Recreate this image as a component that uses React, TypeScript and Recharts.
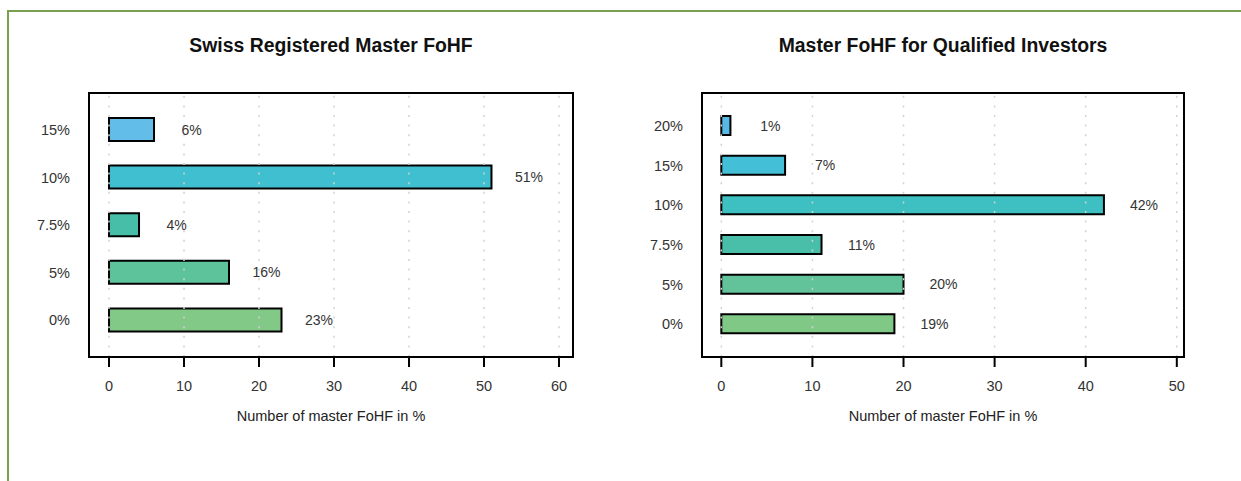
import React from "react";
import { BarChart, Bar, XAxis, YAxis, Cell, LabelList, ReferenceLine } from "recharts";

const FONT = "'Liberation Sans', Arial, sans-serif";

// left panel
const swissCategories = ["15%", "10%", "7.5%", "5%", "0%"];
const swissValues = [6, 51, 4, 16, 23];
const swissColors = ["#62bde9", "#3fbfcf", "#47bea8", "#5cc39b", "#82c887"];
const swissTicks = [0, 10, 20, 30, 40, 50, 60];

// right panel
const qualCategories = ["20%", "15%", "10%", "7.5%", "5%", "0%"];
const qualValues = [1, 7, 42, 11, 20, 19];
const qualColors = ["#56b9e6", "#43c0d7", "#3ebfc1", "#49bea8", "#62c299", "#80c885"];
const qualTicks = [0, 10, 20, 30, 40, 50];

const AXIS_TITLE = "Number of master FoHF in %";

const makeLabel = (offset: number) => (props: any) => {
  const { x, y, width, height, value } = props;
  return (
    <text x={x + width + offset} y={y + height / 2} dy="0.36em" textAnchor="middle"
      fontFamily={FONT} fontSize={14} fill="#333">
      {value}%
    </text>
  );
};

type PanelProps = {
  left: number; width: number;
  plotLeft: number; plotRight: number;
  categories: string[]; values: number[]; colors: string[];
  ticks: number[]; domain: [number, number];
  barSize: number; labelOffset: number; title: string;
};

function Panel(p: PanelProps) {
  const data = p.categories.map((c, i) => ({ cat: c, value: p.values[i] }));
  const top = 93, bottom = 357;
  const cx = (p.plotLeft + p.plotRight) / 2;
  return (
    <div style={{ position: "absolute", left: p.left, top: 0, width: p.width, height: 481 }}>
      <BarChart width={p.width} height={481} data={data} layout="vertical"
        margin={{ top, bottom: 481 - bottom - 40, left: p.plotLeft - 60, right: p.width - p.plotRight }}>
        <XAxis type="number" domain={p.domain} ticks={p.ticks} allowDataOverflow
          axisLine={false} tickSize={10} tickMargin={14} height={40}
          tickLine={{ stroke: "#000", strokeWidth: 2 }}
          tick={{ fontFamily: FONT, fontSize: 14.5, fill: "#333" }} />
        <YAxis type="category" dataKey="cat" width={60} axisLine={false} tickLine={false}
          tickSize={0} tickMargin={19} padding={{ top: 13, bottom: 13 }}
          tick={{ fontFamily: FONT, fontSize: 14.5, fill: "#333" }} />
        <Bar dataKey="value" barSize={p.barSize} stroke="#000" strokeWidth={2} isAnimationActive={false}>
          {data.map((_, i) => <Cell key={i} fill={p.colors[i]} />)}
          <LabelList dataKey="value" content={makeLabel(p.labelOffset)} />
        </Bar>
        {/* dotted grid drawn over the bars, like the original */}
        {p.ticks.map((t) => (
          <ReferenceLine key={t} x={t} stroke="#d2d2d2" strokeWidth={1.5} strokeDasharray="2 7.6" />
        ))}
      </BarChart>
      <svg width={p.width} height={481} style={{ position: "absolute", left: 0, top: 0, pointerEvents: "none" }}>
        <rect x={p.plotLeft} y={top} width={p.plotRight - p.plotLeft} height={bottom - top}
          fill="none" stroke="#000" strokeWidth={2} />
        <text x={cx} y={52} textAnchor="middle" fontFamily={FONT} fontWeight="bold" fontSize={19.4} fill="#111">
          {p.title}
        </text>
        <text x={cx} y={421} textAnchor="middle" fontFamily={FONT} fontSize={14.5} fill="#222">
          {AXIS_TITLE}
        </text>
      </svg>
    </div>
  );
}

export default function App() {
  return (
    <div style={{ position: "fixed", left: 0, top: 0, width: 1241, height: 481, background: "#fff", overflow: "hidden" }}>
      <Panel left={0} width={620} plotLeft={89} plotRight={573}
        categories={swissCategories} values={swissValues} colors={swissColors}
        ticks={swissTicks} domain={[-2.67, 61.87]} barSize={23} labelOffset={37.5}
        title="Swiss Registered Master FoHF" />
      <Panel left={620} width={621} plotLeft={82} plotRight={564}
        categories={qualCategories} values={qualValues} colors={qualColors}
        ticks={qualTicks} domain={[-2.12, 50.79]} barSize={19} labelOffset={40}
        title="Master FoHF for Qualified Investors" />
      <svg width={1241} height={481} style={{ position: "absolute", left: 0, top: 0, pointerEvents: "none" }}>
        <line x1={7} y1={11} x2={1241} y2={11} stroke="#78a04e" strokeWidth={2} />
        <line x1={8} y1={10} x2={8} y2={481} stroke="#78a04e" strokeWidth={2} />
      </svg>
    </div>
  );
}
